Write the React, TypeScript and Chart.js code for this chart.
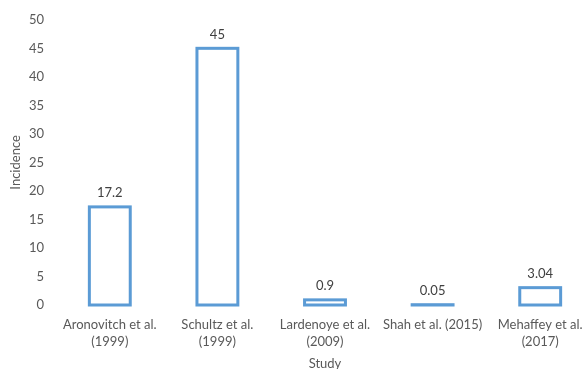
import { useEffect, useRef } from "react";
import { Chart, registerables } from "chart.js";

Chart.register(...registerables);

// Study names (multi-line tick labels)
const studies: string[][] = [
  ["Aronovitch et al.", "(1999)"],
  ["Schultz et al.", "(1999)"],
  ["Lardenoye et al.", "(2009)"],
  ["Shah et al. (2015)"],
  ["Mehaffey et al.", "(2017)"],
];

// Reported incidence per study
const incidence: number[] = [17.2, 45, 0.9, 0.05, 3.04];

// Value labels printed above each bar
const incidenceLabels: string[] = ["17.2", "45", "0.9", "0.05", "3.04"];

const FONT = "Lato, 'Open Sans', sans-serif";
const AXIS_GREY = "#595959";
const LABEL_GREY = "#404040";
const BAR_BLUE = "#5B9BD5";

// Outline each bar with a stroke centred on its edges and print its value above it
const outlineAndLabels = {
  id: "outlineAndLabels",
  afterDatasetsDraw(chart: any) {
    const { ctx } = chart;
    const meta = chart.getDatasetMeta(0);
    ctx.save();
    meta.data.forEach((bar: any, i: number) => {
      const { x, y, base, width } = bar.getProps(["x", "y", "base", "width"], true);
      ctx.strokeStyle = BAR_BLUE;
      ctx.lineWidth = 3;
      ctx.strokeRect(x - width / 2, y, width, base - y);
      ctx.fillStyle = LABEL_GREY;
      ctx.font = `13px ${FONT}`;
      ctx.textAlign = "center";
      ctx.textBaseline = "middle";
      ctx.fillText(incidenceLabels[i], x, y - 14);
    });
    ctx.restore();
  },
};

export default function App() {
  const canvasRef = useRef<HTMLCanvasElement | null>(null);

  useEffect(() => {
    const canvas = canvasRef.current;
    if (!canvas) return;
    const chart = new Chart(canvas, {
      type: "bar",
      data: {
        labels: studies,
        datasets: [
          {
            data: incidence,
            backgroundColor: "#ffffff",
            borderWidth: 0,
            categoryPercentage: 1,
            barPercentage: 0.38,
          },
        ],
      },
      options: {
        responsive: false,
        animation: false,
        devicePixelRatio: 1,
        layout: { padding: { top: 17, right: 0, bottom: 0, left: 0 } },
        plugins: {
          legend: { display: false },
          tooltip: { enabled: false },
        },
        scales: {
          x: {
            grid: { display: false, drawTicks: false },
            border: { display: false },
            ticks: {
              color: AXIS_GREY,
              font: { family: FONT, size: 13, lineHeight: 1.3 },
              padding: 11,
              maxRotation: 0,
              autoSkip: false,
            },
            title: {
              display: true,
              text: "Study",
              color: AXIS_GREY,
              font: { family: FONT, size: 13 },
              padding: { top: 0, bottom: 4 },
            },
            afterFit(scale: any) {
              scale.height = 71;
            },
          },
          y: {
            min: 0,
            max: 50,
            grid: { display: false, drawTicks: false },
            border: { display: false },
            ticks: {
              stepSize: 5,
              color: AXIS_GREY,
              font: { family: FONT, size: 13 },
              padding: 12,
            },
            title: {
              display: true,
              text: "Incidence",
              color: AXIS_GREY,
              font: { family: FONT, size: 13 },
              padding: { top: 8, bottom: 0 },
            },
            afterFit(scale: any) {
              scale.width = 56;
            },
          },
        },
      },
      plugins: [outlineAndLabels],
    });
    return () => chart.destroy();
  }, []);

  return (
    <div
      style={{
        position: "fixed",
        left: 0,
        top: 0,
        width: 585,
        height: 369,
        overflow: "hidden",
        background: "#ffffff",
      }}
    >
      <canvas ref={canvasRef} width={594} height={376} style={{ display: "block" }} />
    </div>
  );
}
